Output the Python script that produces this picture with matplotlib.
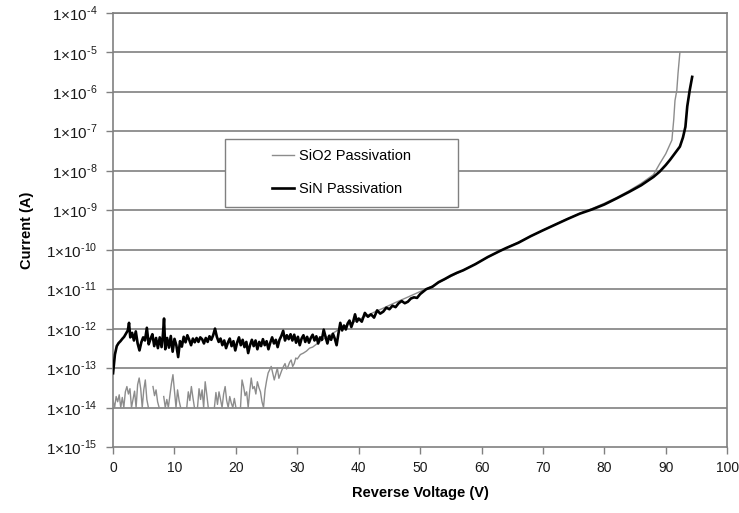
import numpy as np
import matplotlib
matplotlib.use("Agg")
import matplotlib.pyplot as plt
from matplotlib.ticker import FixedLocator, FuncFormatter, NullLocator
from matplotlib.patches import Rectangle

plt.rcParams['font.family'] = ['Liberation Sans', 'DejaVu Sans']

nan = np.nan

# SiO2 passivated diode: reverse voltage (V) and leakage current (A);
# nan marks readings at or below zero, which a log axis cannot show
sio2_v = [0.0, 0.25, 0.5, 0.75, 1.0, 1.25, 1.5, 1.75, 2.0, 2.25, 2.5, 2.75,
          3.0, 3.25, 3.5, 3.75, 4.0, 4.25, 4.5, 4.75, 5.0, 5.25, 5.5, 5.75,
          6.0, 6.25, 6.5, 6.75, 7.0, 7.25, 7.5, 7.75, 8.0, 8.25, 8.5, 8.75,
          9.0, 9.25, 9.5, 9.75, 10.0, 10.25, 10.5, 10.75, 11.0, 11.25, 11.5,
          11.75, 12.0, 12.25, 12.5, 12.75, 13.0, 13.25, 13.5, 13.75, 14.0,
          14.25, 14.5, 14.75, 15.0, 15.25, 15.5, 15.75, 16.0, 16.25, 16.5,
          16.75, 17.0, 17.25, 17.5, 17.75, 18.0, 18.25, 18.5, 18.75, 19.0,
          19.25, 19.5, 19.75, 20.0, 20.25, 20.5, 20.75, 21.0, 21.25, 21.5,
          21.75, 22.0, 22.25, 22.5, 22.75, 23.0, 23.25, 23.5, 23.75, 24.0,
          24.25, 24.5, 24.75, 25.0, 25.25, 25.5, 25.75, 26.0, 26.25, 26.5,
          26.75, 27.0, 27.25, 27.5, 27.75, 28.0, 28.25, 28.5, 28.75, 29.0,
          29.25, 29.5, 29.75, 30.0, 30.5, 31.0, 31.5, 32.0, 32.5, 33.0, 33.5,
          34.0, 34.5, 35.0, 35.5, 36.0, 36.7, 37.5, 38.0, 40.0, 42.0, 44.0,
          46.0, 48.0, 50.0, 52.0, 54.0, 56.0, 58.0, 60.0, 62.0, 64.0, 66.0,
          68.0, 70.0, 72.0, 74.0, 76.0, 78.0, 80.0, 82.0, 84.0, 86.0, 88.0,
          89.0, 90.0, 90.5, 91.0, 91.3, 91.5, 91.8, 92.0, 92.3]
sio2_i = [1.5e-14, 1.0e-14, 1.9e-14, 1.4e-14, 2.1e-14, 1.0e-14, 1.8e-14,
          1.0e-14, 2.5e-14, 3.4e-14, 2.2e-14, 3.0e-14, 1.0e-14, 1.6e-14,
          2.6e-14, 1.0e-14, 3.8e-14, 5.6e-14, 3.0e-14, 1.0e-14, 2.8e-14,
          5.0e-14, 1.6e-14, 1.0e-14, nan, nan, 3.4e-14, 2.0e-14, 2.8e-14,
          1.4e-14, 1.0e-14, nan, nan, 1.9e-14, 1.0e-14, 1.6e-14, 1.0e-14,
          2.0e-14, 4.0e-14, 6.8e-14, 2.6e-14, 1.0e-14, 2.8e-14, 1.5e-14,
          1.0e-14, nan, nan, nan, 1.0e-14, 2.5e-14, 1.5e-14, 3.4e-14,
          1.8e-14, 1.0e-14, nan, 1.0e-14, 3.0e-14, 1.6e-14, 2.8e-14, 1.0e-14,
          4.5e-14, 2.2e-14, 1.0e-14, nan, nan, nan, 1.0e-14, 2.4e-14,
          1.2e-14, 2.5e-14, 1.6e-14, 1.0e-14, 2.2e-14, 3.4e-14, 1.5e-14,
          1.0e-14, 1.9e-14, 1.3e-14, 1.0e-14, 1.7e-14, 1.0e-14, nan, nan,
          1.0e-14, 5.0e-14, 3.4e-14, 2.0e-14, 2.5e-14, 1.0e-14, 2.6e-14,
          5.6e-14, 3.0e-14, 3.4e-14, 2.2e-14, 4.5e-14, 3.2e-14, 2.5e-14,
          1.4e-14, 1.0e-14, 2.8e-14, 4.8e-14, 7.5e-14, 9.0e-14, 1.1e-13,
          7.5e-14, 5.0e-14, 7.0e-14, 1.0e-13, 5.5e-14, 7.0e-14, 9.0e-14,
          1.1e-13, 1.3e-13, 9.5e-14, 1.1e-13, 1.4e-13, 1.6e-13, 1.1e-13,
          1.3e-13, 1.8e-13, 1.7e-13, 2.2e-13, 2.4e-13, 2.7e-13, 3.2e-13,
          3.4e-13, 3.9e-13, 4.4e-13, 5.0e-13, 5.8e-13, 6.2e-13, 7.0e-13,
          8.0e-13, 9.4e-13, 1.1e-12, 1.2e-12, 1.7e-12, 2.4e-12, 3.3e-12,
          4.6e-12, 6.3e-12, 8.7e-12, 1.2e-11, 1.75e-11, 2.5e-11, 3.6e-11,
          5.3e-11, 7.7e-11, 1.1e-10, 1.55e-10, 2.2e-10, 3.1e-10, 4.4e-10,
          6.1e-10, 8.3e-10, 1.1e-9, 1.5e-9, 2.1e-9, 3.1e-9, 4.8e-9, 8.0e-9,
          1.5e-8, 2.7e-8, 4.0e-8, 6.0e-8, 2.0e-7, 6.0e-7, 1.1e-6, 3.0e-6,
          1.0e-5]

# SiN passivated diode: reverse voltage (V) and leakage current (A)
sin_v = [0.0, 0.3, 0.6, 0.9, 1.2, 1.5, 1.8, 2.1, 2.4, 2.6, 2.8, 3.1, 3.4,
         3.7, 4.0, 4.3, 4.6, 4.9, 5.2, 5.5, 5.8, 6.1, 6.4, 6.7, 7.0, 7.3,
         7.6, 7.9, 8.1, 8.3, 8.5, 8.8, 9.1, 9.4, 9.7, 10.0, 10.3, 10.6, 10.9,
         11.2, 11.5, 11.8, 12.1, 12.4, 12.7, 13.0, 13.3, 13.6, 13.9, 14.2,
         14.5, 14.8, 15.1, 15.4, 15.7, 16.0, 16.3, 16.6, 16.9, 17.2, 17.5,
         17.8, 18.1, 18.4, 18.7, 19.0, 19.3, 19.6, 19.9, 20.2, 20.5, 20.8,
         21.1, 21.4, 21.7, 22.0, 22.3, 22.6, 22.9, 23.2, 23.5, 23.8, 24.1,
         24.4, 24.7, 25.0, 25.3, 25.6, 25.9, 26.2, 26.5, 26.8, 27.1, 27.4,
         27.7, 28.0, 28.3, 28.6, 28.9, 29.2, 29.5, 29.8, 30.1, 30.4, 30.7,
         31.0, 31.3, 31.6, 31.9, 32.2, 32.5, 32.8, 33.1, 33.4, 33.7, 34.0,
         34.3, 34.6, 34.9, 35.2, 35.5, 35.8, 36.1, 36.4, 36.7, 37.0, 37.3,
         37.6, 37.9, 38.2, 38.5, 38.8, 39.1, 39.4, 39.7, 40.0, 40.5, 41.0,
         41.5, 42.0, 42.5, 43.0, 43.5, 44.0, 44.5, 45.0, 45.5, 46.0, 46.5,
         47.0, 47.5, 48.0, 48.5, 49.0, 49.5, 50.0, 51.0, 52.0, 53.0, 54.0,
         55.0, 56.0, 57.0, 58.0, 59.0, 60.0, 61.0, 62.0, 63.0, 64.0, 66.0,
         68.0, 70.0, 72.0, 74.0, 76.0, 78.0, 80.0, 82.0, 84.0, 86.0, 88.0,
         89.0, 90.0, 90.7, 91.5, 92.3, 92.8, 93.2, 93.5, 93.9, 94.3]
sin_i = [7.4e-14, 2.2e-13, 3.6e-13, 4.3e-13, 4.8e-13, 5.5e-13, 6.2e-13,
         7.5e-13, 9.0e-13, 1.4e-12, 6.0e-13, 7.8e-13, 5.0e-13, 8.5e-13,
         4.2e-13, 2.8e-13, 4.5e-13, 6.0e-13, 5.0e-13, 1.05e-12, 4.0e-13,
         5.5e-13, 7.2e-13, 3.6e-13, 5.8e-13, 3.2e-13, 6.0e-13, 3.4e-13,
         6.5e-13, 1.8e-12, 3.0e-13, 5.8e-13, 3.3e-13, 6.5e-13, 2.6e-13,
         5.5e-13, 3.8e-13, 1.9e-13, 4.8e-13, 3.5e-13, 6.2e-13, 4.5e-13,
         6.8e-13, 5.2e-13, 3.8e-13, 5.6e-13, 4.5e-13, 5.8e-13, 4.6e-13,
         6.0e-13, 5.4e-13, 4.2e-13, 5.8e-13, 4.6e-13, 6.4e-13, 5.2e-13,
         6.8e-13, 1.0e-12, 6.2e-13, 4.6e-13, 5.6e-13, 3.8e-13, 5.0e-13,
         3.2e-13, 4.4e-13, 5.6e-13, 3.6e-13, 4.8e-13, 2.8e-13, 4.4e-13,
         6.0e-13, 3.8e-13, 5.2e-13, 3.4e-13, 4.6e-13, 2.4e-13, 3.8e-13,
         5.2e-13, 3.6e-13, 5.0e-13, 3.0e-13, 4.6e-13, 3.6e-13, 5.4e-13,
         3.8e-13, 4.8e-13, 3.0e-13, 4.4e-13, 6.0e-13, 4.2e-13, 5.2e-13,
         3.4e-13, 5.2e-13, 6.5e-13, 8.8e-13, 5.0e-13, 6.8e-13, 5.4e-13,
         7.2e-13, 5.0e-13, 7.0e-13, 4.4e-13, 6.2e-13, 3.8e-13, 5.6e-13,
         6.8e-13, 4.6e-13, 6.2e-13, 4.4e-13, 5.8e-13, 7.0e-13, 5.0e-13,
         6.4e-13, 4.2e-13, 6.0e-13, 5.2e-13, 9.4e-13, 6.2e-13, 4.2e-13,
         6.6e-13, 5.2e-13, 7.4e-13, 5.6e-13, 3.8e-13, 7.5e-13, 1.4e-12,
         9.0e-13, 1.2e-12, 9.5e-13, 1.35e-12, 1.6e-12, 1.1e-12, 1.5e-12,
         2.3e-12, 1.5e-12, 1.8e-12, 1.5e-12, 2.5e-12, 2.0e-12, 2.3e-12,
         1.9e-12, 2.9e-12, 2.4e-12, 2.7e-12, 3.4e-12, 3.1e-12, 3.8e-12,
         3.5e-12, 4.4e-12, 5.0e-12, 4.4e-12, 4.8e-12, 5.8e-12, 6.2e-12,
         6.0e-12, 7.5e-12, 1.0e-11, 1.15e-11, 1.5e-11, 1.8e-11, 2.2e-11,
         2.6e-11, 3.0e-11, 3.6e-11, 4.3e-11, 5.3e-11, 6.5e-11, 7.8e-11,
         9.3e-11, 1.1e-10, 1.5e-10, 2.2e-10, 3.1e-10, 4.3e-10, 6.0e-10,
         8.2e-10, 1.05e-9, 1.4e-9, 2.0e-9, 2.9e-9, 4.3e-9, 7.0e-9, 9.5e-9,
         1.4e-8, 1.9e-8, 2.8e-8, 4.1e-8, 7.0e-8, 1.3e-7, 4.3e-7, 1.1e-6,
         2.4e-6]

x_ticks = [0, 10, 20, 30, 40, 50, 60, 70, 80, 90, 100]
y_exponents = [-15, -14, -13, -12, -11, -10, -9, -8, -7, -6, -5, -4]

grid_col = '#8a8a8a'
axis_col = '#808080'

fig = plt.figure(figsize=(7.39, 5.13), dpi=100)
ax = fig.add_axes([0.153, 0.1287, 0.831, 0.846])

ax.set_yscale('log')
ax.set_xlim(0, 100)
ax.set_ylim(10.0 ** y_exponents[0], 10.0 ** y_exponents[-1])

# horizontal decade gridlines
for e in y_exponents[1:]:
    ax.axhline(10.0 ** e, color=grid_col, lw=1.3, zorder=1)

ax.plot(sio2_v, sio2_i, color='#8c8c8c', lw=1.0, zorder=3,
        label='SiO2 Passivation')
ax.plot(sin_v, sin_i, color='black', lw=1.9, zorder=4,
        label='SiN Passivation')

ax.xaxis.set_major_locator(FixedLocator(x_ticks))
ax.yaxis.set_major_locator(FixedLocator([10.0 ** e for e in y_exponents]))
ax.yaxis.set_minor_locator(NullLocator())
ax.xaxis.set_minor_locator(NullLocator())


def fmt_y(val, pos):
    e = int(round(np.log10(val)))
    # short hyphen in the exponent instead of a full minus sign
    return '1×10$^{\\mathregular{\u2010%d}}$' % abs(e)


ax.yaxis.set_major_formatter(FuncFormatter(fmt_y))
ax.tick_params(axis='both', direction='out', length=5, width=1.0,
               color=axis_col, labelsize=10, labelcolor='#1a1a1a')
ax.tick_params(axis='y', pad=6, labelsize=11)
ax.tick_params(axis='x', pad=5)

for side in ['left', 'right', 'top', 'bottom']:
    ax.spines[side].set_color(axis_col)
    ax.spines[side].set_linewidth(1.2)

ax.set_xlabel('Reverse Voltage (V)', fontsize=10.5, fontweight='bold',
              labelpad=8)
ax.set_ylabel('Current (A)', fontsize=10.5, fontweight='bold', labelpad=9)

# legend box
bx0, by0, bw, bh = 0.182, 0.553, 0.38, 0.157
ax.add_patch(Rectangle((bx0, by0), bw, bh, transform=ax.transAxes,
                       facecolor='white', edgecolor=axis_col, lw=1.0,
                       zorder=6))
ax.legend(loc='center', bbox_to_anchor=(bx0, by0, bw, bh), frameon=False,
          fontsize=10.5, handlelength=1.45, handletextpad=0.35,
          labelspacing=1.3).set_zorder(7)

fig.savefig('out.png', dpi=100)
